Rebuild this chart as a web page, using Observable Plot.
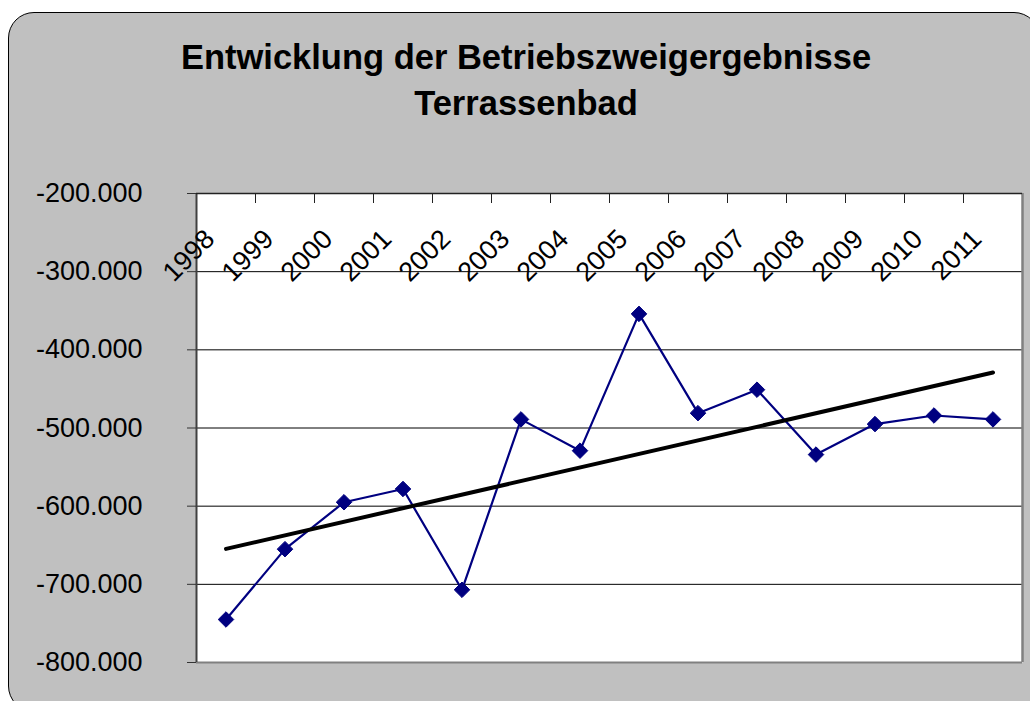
<!DOCTYPE html>
<html>
<head>
<meta charset="utf-8">
<script src="https://cdn.jsdelivr.net/npm/d3@7"></script>
<script src="https://cdn.jsdelivr.net/npm/@observablehq/plot@0.6"></script>
<style>
  html, body { margin: 0; padding: 0; background: #ffffff; overflow: hidden; }
  #page { position: relative; width: 1030px; height: 701px; overflow: hidden; font-family: "Liberation Sans", Arial, sans-serif; }
  #box { position: absolute; left: 8px; top: 12px; width: 1032px; height: 700px; box-sizing: border-box;
         background: #c0c0c0; border: 1.5px solid #000; border-radius: 26px; }
  #title { position: absolute; left: 26px; width: 1000px; top: 33.5px; text-align: center;
           font-weight: bold; font-size: 34.5px; line-height: 46px; color: #000; }
  #chart { position: absolute; left: 0; top: 0; }
</style>
</head>
<body>
<div id="page">
  <div id="box"></div>
  <div id="title">Entwicklung der Betriebszweigergebnisse<br>Terrassenbad</div>
  <div id="chart"></div>
</div>
<script>
// Data
const years = [1998, 1999, 2000, 2001, 2002, 2003, 2004, 2005, 2006, 2007, 2008, 2009, 2010, 2011];
const results = [-745000, -655000, -595000, -578000, -707000, -489000, -529000, -354000, -481000, -451000, -534000, -495000, -484000, -489000];
const yTicks = [-200000, -300000, -400000, -500000, -600000, -700000, -800000];
const gridValues = [-300000, -400000, -500000, -600000, -700000];

const data = years.map((year, i) => ({year, value: results[i]}));
const boundaries = years.slice(0, -1).map(y => y + 0.5);

const de = d3.formatLocale({decimal: ",", thousands: ".", grouping: [3], currency: ["", " €"], minus: "-"});
const fmt = de.format(",");

const FONT = "Liberation Sans, Arial, sans-serif";

const chart = Plot.plot({
  width: 1030,
  height: 701,
  marginLeft: 196,
  marginRight: 8,
  marginTop: 193,
  marginBottom: 39,
  style: {background: "transparent", fontFamily: FONT, color: "#000", overflow: "visible"},
  x: {type: "linear", domain: [years[0] - 0.5, years[years.length - 1] + 0.5]},
  y: {type: "linear", domain: [-800000, -200000]},
  marks: [
    Plot.frame({fill: "#ffffff", stroke: "none"}),
    Plot.ruleY(gridValues, {stroke: "#000", strokeWidth: 1}),
    Plot.ruleY([-800000], {stroke: "#808080", strokeWidth: 2}),
    Plot.ruleX([years[years.length - 1] + 0.5], {stroke: "#808080", strokeWidth: 2.5}),
    Plot.ruleX([years[0] - 0.5], {stroke: "#404040", strokeWidth: 2}),
    Plot.ruleY([-200000], {stroke: "#222", strokeWidth: 1.5}),
    Plot.axisY({ticks: yTicks, tickSize: 9, tickPadding: 45, tickFormat: fmt, fontSize: 27, stroke: "#333", fill: "#000", label: null}),
    Plot.axisX({anchor: "top", ticks: boundaries, tickSize: 9, dy: 9, tickFormat: () => "", stroke: "#222", label: null}),
    Plot.text(data, {x: "year", frameAnchor: "top", text: d => String(d.year), rotate: -45, textAnchor: "end", lineAnchor: "middle", dx: -16, dy: 41, fontSize: 27, fill: "#000"}),
    Plot.line(data, {x: "year", y: "value", stroke: "#000080", strokeWidth: 2.2}),
    Plot.dot(data, {x: "year", y: "value", symbol: "diamond2", r: 7, fill: "#000080", stroke: "#000080", strokeWidth: 1}),
    Plot.linearRegressionY(data, {x: "year", y: "value", stroke: "#000", strokeWidth: 4, ci: 0})
  ]
});
document.getElementById("chart").appendChild(chart);
</script>
</body>
</html>
